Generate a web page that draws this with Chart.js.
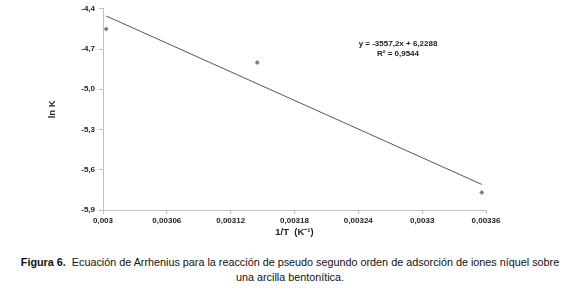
<!DOCTYPE html>
<html>
<head>
<meta charset="utf-8">
<script src="https://cdn.jsdelivr.net/npm/chart.js@4.4.0/dist/chart.umd.min.js"></script>
<style>
  body { margin: 0; background: #fff; }
  #wrap { position: relative; width: 580px; height: 290px; }
  #c { position: absolute; left: 0; top: 0; }
  #eq { position: absolute; left: 338px; top: 39px; width: 120px; text-align: center;
        font: bold 8px "Liberation Sans", Arial, sans-serif; line-height: 10px; color: #222; }
  #cap { position: absolute; left: 0; top: 255px; width: 580px; text-align: center;
         font: 10.8px "Liberation Sans", Arial, sans-serif; line-height: 15px; color: #111; }
</style>
</head>
<body>
<div id="wrap">
  <canvas id="c" width="580" height="245"></canvas>
  <div id="eq">y = -3557,2x + 6,2288<br>R² = 0,9544</div>
  <div id="cap"><b>Figura 6.</b>&nbsp; Ecuación de Arrhenius para la reacción de pseudo segundo orden de adsorción de iones níquel sobre<br>una arcilla bentonítica.</div>
</div>
<script>
let invT = [0.003003, 0.003145, 0.003356];
let lnK = [-4.55, -4.80, -5.77];
let slope = -3557.2;
let intercept = 6.2288;
let xTicks = [0.003, 0.00306, 0.00312, 0.00318, 0.00324, 0.0033, 0.00336];
let yTicks = [-5.9, -5.6, -5.3, -5.0, -4.7, -4.4];

const points = invT.map((x, i) => ({ x: x, y: lnK[i] }));
const xa = invT[0], xb = invT[invT.length - 1];
const trend = [
  { x: xa, y: slope * xa + intercept },
  { x: xb, y: slope * xb + intercept },
];

const tickFont = { family: "Liberation Sans", size: 8, weight: "bold" };
const titleFont = { family: "Liberation Sans", size: 9.5, weight: "bold" };
const comma = (v, d) => v.toFixed(d).replace(".", ",");

new Chart("c", {
  type: "scatter",
  data: {
    datasets: [
      {
        data: points,
        pointStyle: "rectRot",
        radius: 2.5,
        backgroundColor: "#7f7f7f",
        borderColor: "#7f7f7f",
        borderWidth: 0,
      },
      {
        type: "line",
        data: trend,
        borderColor: "#555",
        borderWidth: 1,
        pointRadius: 0,
        fill: false,
      },
    ],
  },
  options: {
    responsive: false,
    animation: false,
    layout: { padding: { top: 7, right: 94, left: 0, bottom: 0 } },
    plugins: { legend: { display: false }, tooltip: { enabled: false } },
    scales: {
      x: {
        type: "linear",
        min: 0.003,
        max: 0.00336,
        afterBuildTicks: (s) => { s.ticks = xTicks.map((v) => ({ value: v })); },
        afterFit: (s) => { s.height = 35; },
        grid: { drawOnChartArea: false, tickLength: 4, color: "#bfbfbf" },
        border: { color: "#bfbfbf" },
        ticks: {
          font: tickFont,
          color: "#222",
          padding: 2,
          maxRotation: 0,
          callback: (v) => String(+v.toPrecision(6)).replace(".", ","),
        },
        title: {
          display: true,
          text: "1/T  (K⁻¹)",
          font: titleFont,
          color: "#222",
          padding: { bottom: 7 },
        },
      },
      y: {
        min: -5.9,
        max: -4.4,
        afterBuildTicks: (s) => { s.ticks = yTicks.map((v) => ({ value: v })); },
        afterFit: (s) => { s.width = 103; },
        grid: { drawOnChartArea: false, tickLength: 4, color: "#bfbfbf" },
        border: { color: "#bfbfbf" },
        ticks: {
          font: tickFont,
          color: "#222",
          padding: 4,
          callback: (v) => comma(v, 1),
        },
        title: {
          display: true,
          text: "ln K",
          font: titleFont,
          color: "#222",
          padding: { top: 47 },
        },
      },
    },
  },
});
</script>
</body>
</html>
